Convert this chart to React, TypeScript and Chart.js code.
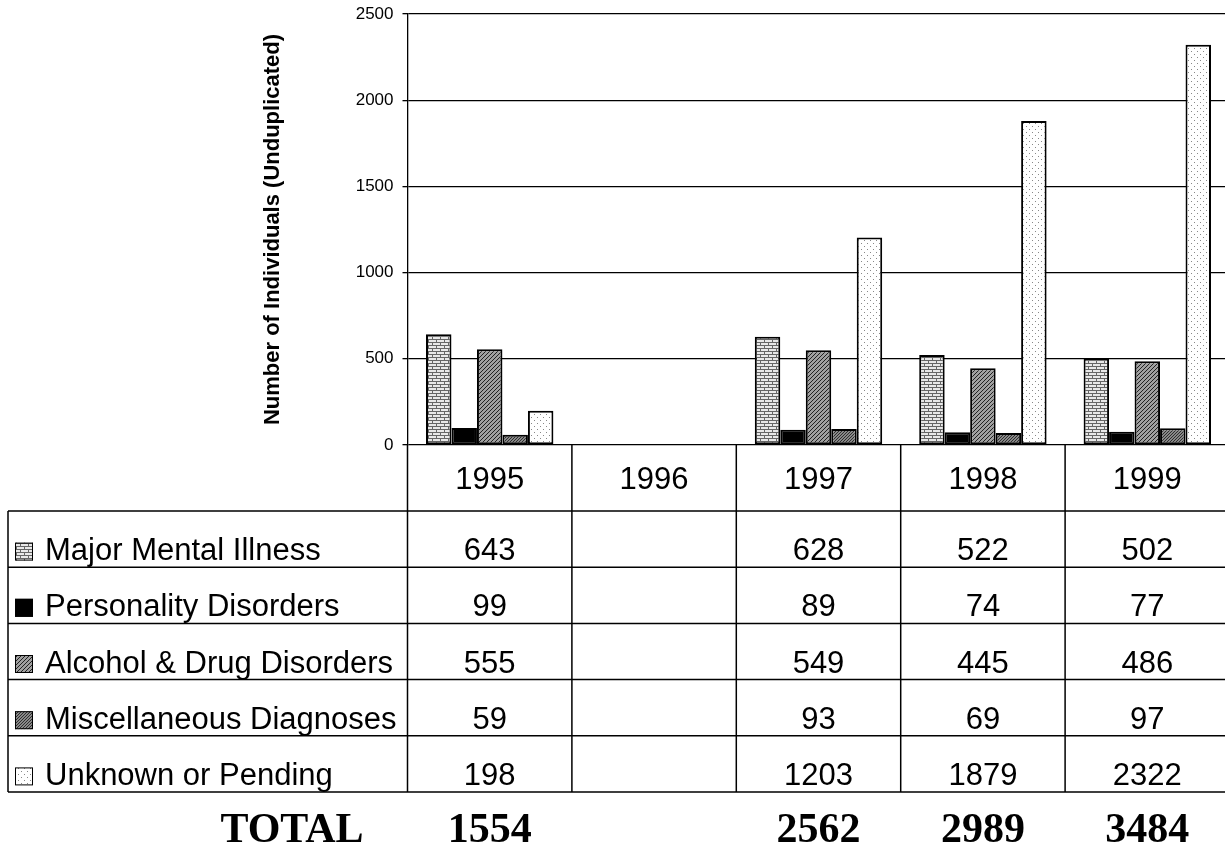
import React, { useEffect, useRef } from "react";
import { Chart, registerables } from "chart.js";

Chart.register(...registerables);

const years = ["1995", "1996", "1997", "1998", "1999"];
const seriesNames = [
  "Major Mental Illness",
  "Personality Disorders",
  "Alcohol & Drug Disorders",
  "Miscellaneous Diagnoses",
  "Unknown or Pending",
];
const majorMental = [643, null, 628, 522, 502];
const personality = [99, null, 89, 74, 77];
const alcoholDrug = [555, null, 549, 445, 486];
const miscDiag = [59, null, 93, 69, 97];
const unknownPending = [198, null, 1203, 1879, 2322];
const totals = [1554, null, 2562, 2989, 3484];
const yTicks = [0, 500, 1000, 1500, 2000, 2500];
const yTitle = "Number of Individuals (Unduplicated)";
const totalLabel = "TOTAL";

const seriesValues = [majorMental, personality, alcoholDrug, miscDiag, unknownPending];

function makeTile(w: number, h: number, draw: (c: CanvasRenderingContext2D) => void) {
  const c = document.createElement("canvas");
  c.width = w;
  c.height = h;
  const g = c.getContext("2d")!;
  draw(g);
  return g.createPattern(c, "repeat")!;
}

function makePatterns() {
  const brick = makeTile(8, 6, (g) => {
    g.fillStyle = "#e8e8e8";
    g.fillRect(0, 0, 8, 6);
    g.fillStyle = "#666666";
    g.fillRect(0, 0, 8, 1);
    g.fillRect(0, 3, 8, 1);
    g.fillRect(0, 0, 1, 3);
    g.fillRect(4, 3, 1, 3);
  });
  const hatch = makeTile(4, 4, (g) => {
    g.fillStyle = "#a0a0a0";
    g.fillRect(0, 0, 4, 4);
    g.fillStyle = "#222";
    for (let x = 0; x < 4; x++) {
      const y = (4 - x) % 4;
      g.fillRect(x, y, 1, 1);
    }
  });
  const checker = makeTile(3, 3, (g) => {
    g.fillStyle = "#888888";
    g.fillRect(0, 0, 3, 3);
    g.fillStyle = "#2e2e2e";
    g.fillRect(0, 0, 1, 1);
    g.fillRect(2, 1, 1, 1);
    g.fillRect(1, 2, 1, 1);
  });
  const dots = makeTile(6, 6, (g) => {
    g.fillStyle = "#ffffff";
    g.fillRect(0, 0, 6, 6);
    g.fillStyle = "#888";
    g.fillRect(0, 0, 1, 1);
    g.fillRect(3, 3, 1, 1);
  });
  return [brick, "#000000", hatch, checker, dots] as (string | CanvasPattern)[];
}

const SANS = '"Liberation Sans", Arial, sans-serif';
const SERIF = '"Liberation Serif", "Times New Roman", serif';

export default function App() {
  const ref = useRef<HTMLCanvasElement | null>(null);

  useEffect(() => {
    const canvas = ref.current;
    if (!canvas) return;
    const fills = makePatterns();

    const tablePlugin = {
      id: "dataTable",
      afterDraw(chart: any) {
        const ctx: CanvasRenderingContext2D = chart.ctx;
        const area = chart.chartArea;
        const xs = chart.scales.x;
        const n = years.length;
        const cw = (area.right - area.left) / n;
        const bounds: number[] = [];
        for (let i = 0; i < n; i++) bounds.push(xs.getPixelForValue(i) - cw / 2);
        bounds.push(xs.getPixelForValue(n - 1) + cw / 2);
        const yearBottom = area.bottom + 66;
        const rowH = 56.2;
        const tableLeft = 8;
        const tableBottom = yearBottom + rowH * seriesNames.length;
        const right = chart.width;

        ctx.save();
        ctx.strokeStyle = "#000";
        ctx.lineWidth = 1.5;
        ctx.beginPath();
        for (let i = 0; i <= n; i++) {
          ctx.moveTo(bounds[i], area.bottom);
          ctx.lineTo(bounds[i], tableBottom);
        }
        ctx.moveTo(tableLeft, yearBottom);
        ctx.lineTo(tableLeft, tableBottom);
        for (let r = 0; r <= seriesNames.length; r++) {
          const y = yearBottom + r * rowH;
          ctx.moveTo(tableLeft, y);
          ctx.lineTo(right, y);
        }
        ctx.stroke();

        ctx.textBaseline = "middle";
        for (let r = 0; r < seriesNames.length; r++) {
          const cy = yearBottom + r * rowH + rowH / 2 + 12.5;
          const isz = 18;
          const ix = 15, iy = cy - 9;
          ctx.fillStyle = fills[r] as any;
          ctx.fillRect(ix, iy, isz, isz);
          ctx.lineWidth = 1;
          ctx.strokeStyle = "#000";
          ctx.strokeRect(ix + 0.5, iy + 0.5, isz - 1, isz - 1);
          ctx.fillStyle = "#000";
          ctx.font = `31px ${SANS}`;
          ctx.textAlign = "left";
          ctx.fillText(seriesNames[r], 45, cy);
          ctx.textAlign = "center";
          const vals = seriesValues[r];
          for (let i = 0; i < n; i++) {
            const v = vals[i];
            if (v === null || v === undefined) continue;
            ctx.fillText(String(v), xs.getPixelForValue(i), cy);
          }
        }
        ctx.font = `bold 42px ${SERIF}`;
        ctx.textAlign = "center";
        const ty = 831;
        ctx.fillText(totalLabel, 292, ty);
        for (let i = 0; i < n; i++) {
          const t = totals[i];
          if (t === null || t === undefined) continue;
          ctx.fillText(String(t), xs.getPixelForValue(i), ty);
        }
        ctx.restore();
      },
    };

    const chart = new Chart(canvas, {
      type: "bar",
      data: {
        labels: years,
        datasets: seriesNames.map((name, i) => ({
          label: name,
          data: seriesValues[i] as any,
          backgroundColor: fills[i] as any,
          borderColor: "#000",
          borderWidth: 2,
          borderSkipped: false,
          barPercentage: 1,
          categoryPercentage: 0.775,
        })),
      },
      options: {
        animation: false,
        responsive: false,
        devicePixelRatio: 1,
        layout: { padding: { left: 256, right: 10.5, top: 14, bottom: 0 } },
        plugins: {
          legend: { display: false },
          tooltip: { enabled: false },
          title: { display: false },
        },
        scales: {
          x: {
            grid: { display: false, drawTicks: false },
            border: { display: false },
            ticks: {
              color: "#000",
              font: { family: SANS, size: 31 },
              padding: 17,
              maxRotation: 0,
            },
            afterFit: (s: any) => {
              s.height = 405;
              s.paddingLeft = 0;
              s.paddingRight = 0;
            },
          },
          y: {
            min: 0,
            max: 2500,
            afterBuildTicks: (s: any) => {
              s.ticks = yTicks.map((v) => ({ value: v }));
            },
            grid: { color: "#000", lineWidth: 1.3, tickLength: 5, drawTicks: true },
            border: { display: true, color: "#000", width: 1.3 },
            ticks: {
              color: "#000",
              font: { family: SANS, size: 17 },
              padding: 9,
              callback: (v: any) => String(v),
            },
            title: {
              display: true,
              text: yTitle,
              color: "#000",
              font: { family: SANS, size: 22, weight: "bold" },
              padding: { top: 4, bottom: 4 },
            },
            afterFit: (s: any) => {
              s.width = 151.5;
              s.paddingTop = 0;
              s.paddingBottom = 0;
            },
          },
        },
      },
      plugins: [tablePlugin],
    });
    return () => chart.destroy();
  }, []);

  return (
    <div
      style={{
        position: "fixed",
        left: 0,
        top: 0,
        width: 1225,
        height: 850,
        overflow: "hidden",
        background: "#fff",
      }}
    >
      <canvas ref={ref} width={1240} height={850} style={{ width: 1240, height: 850, display: "block" }} />
    </div>
  );
}
